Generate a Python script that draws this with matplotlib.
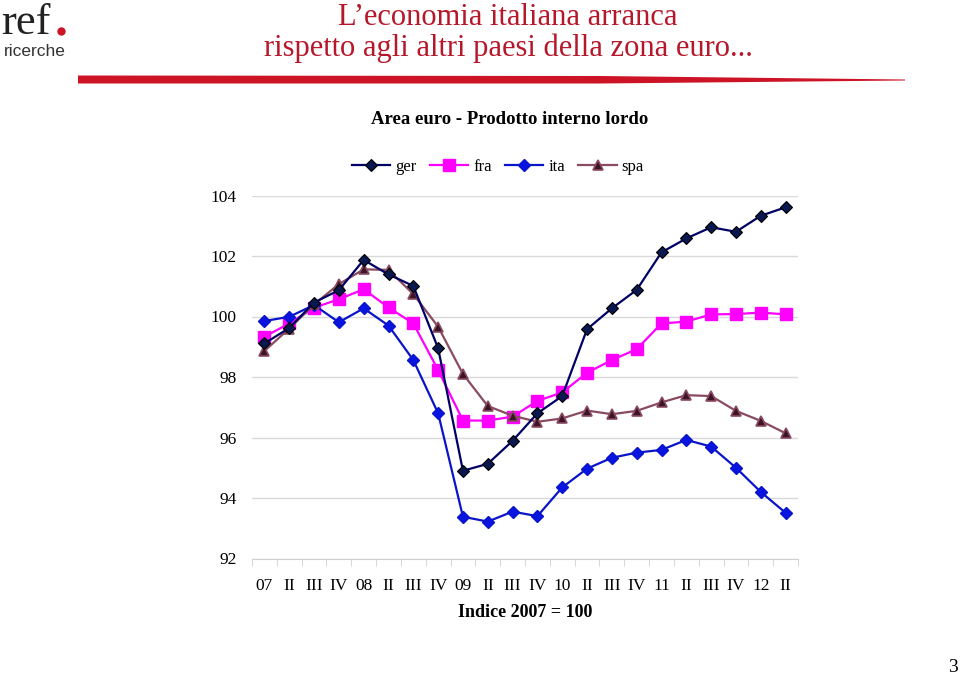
import numpy as np
import matplotlib.pyplot as plt
from matplotlib.patches import Polygon
from matplotlib.lines import Line2D

quarters = ['07', 'II', 'III', 'IV', '08', 'II', 'III', 'IV', '09', 'II', 'III', 'IV',
            '10', 'II', 'III', 'IV', '11', 'II', 'III', 'IV', '12', 'II']

ger = [99.11, 99.62, 100.46, 100.87, 101.87, 101.39, 101.01, 98.95, 94.90, 95.13, 95.89,
       96.80, 97.37, 99.58, 100.27, 100.88, 102.12, 102.58, 102.95, 102.80, 103.33, 103.61]
fra = [99.33, 99.77, 100.29, 100.57, 100.90, 100.30, 99.77, 98.23, 96.56, 96.56, 96.69,
       97.21, 97.49, 98.14, 98.56, 98.92, 99.77, 99.83, 100.07, 100.08, 100.13, 100.07]
ita = [99.85, 99.99, 100.38, 99.81, 100.27, 99.70, 98.56, 96.80, 93.38, 93.22, 93.55,
       93.40, 94.35, 94.97, 95.33, 95.50, 95.59, 95.92, 95.70, 95.00, 94.20, 93.51]
spa = [98.86, 99.60, 100.40, 101.07, 101.56, 101.54, 100.74, 99.66, 98.10, 97.04, 96.72,
       96.52, 96.63, 96.89, 96.77, 96.88, 97.16, 97.40, 97.37, 96.88, 96.55, 96.14]

serif = ['Liberation Serif', 'DejaVu Serif']
red = '#b5182b'

fig = plt.figure(figsize=(9.6, 6.76), dpi=100)
ax = fig.add_axes([252 / 960, 1 - 558.5 / 676, 546 / 960, 363 / 676])

x = np.arange(len(quarters))
ax.plot(x, ger, color='#000066', lw=1.6, marker='D', ms=6.5, mfc='#0b1850', mec='black', mew=0.8, label='ger', zorder=5)
ax.plot(x, fra, color='#ff00ff', lw=1.6, marker='s', ms=8, mfc='#ff00ff', mec='#ff00ff', label='fra', zorder=4)
ax.plot(x, ita, color='#0a14c8', lw=1.6, marker='D', ms=6.5, mfc='#0a14e0', mec='#0a14c8', label='ita', zorder=4)
ax.plot(x, spa, color='#8a4a60', lw=1.6, marker='^', ms=7.5, mfc='#3c1428', mec='#8a4a60', mew=1.2, label='spa', zorder=4)

ax.set_xlim(-0.5, len(quarters) - 0.5)
ax.set_ylim(92, 104)
ax.set_yticks(np.arange(92, 105, 2))
ax.yaxis.grid(True, color='#d9d9d9', lw=1)
ax.set_axisbelow(True)
for s in ['top', 'right', 'left']:
    ax.spines[s].set_visible(False)
ax.spines['bottom'].set_color('#d0d0d0')
ax.tick_params(axis='y', length=0, pad=11, labelsize=12.5)
ax.set_xticks(x)
ax.set_xticklabels(quarters, fontsize=12.5)
ax.set_xticks(np.arange(-0.5, len(quarters), 1), minor=True)
ax.tick_params(axis='x', which='major', length=0, pad=14)
ax.tick_params(axis='x', which='minor', length=5, color='#d0d0d0')
for lab in ax.get_xticklabels() + ax.get_yticklabels():
    lab.set_family(serif)
ax.set_xlabel('Indice 2007 = 100', fontsize=13, fontweight='bold', family=serif, labelpad=7)

fig.legend(loc='center', bbox_to_anchor=(498 / 960, 1 - 167 / 676), ncol=4, frameon=False,
           prop={'family': serif, 'size': 12}, handlelength=2.3, columnspacing=0.8, handletextpad=0.3)

fig.text(510 / 960, 1 - 119 / 676, 'Area euro - Prodotto interno lordo', ha='center', va='center',
         fontsize=13.5, fontweight='bold', family=serif)

# slide title
fig.text(508 / 960, 1 - 25 / 676, 'L\u2019economia italiana arranca', ha='center', va='baseline',
         fontsize=22, color=red, family=serif)
fig.text(508 / 960, 1 - 56 / 676, 'rispetto agli altri paesi della zona euro...', ha='center', va='baseline',
         fontsize=22, color=red, family=serif)

# tapered red bar
bar = Polygon([(78 / 960, 1 - 75.5 / 676), (600 / 960, 1 - 76 / 676), (905 / 960, 1 - 79.5 / 676),
               (905 / 960, 1 - 80.5 / 676), (600 / 960, 1 - 83.5 / 676), (78 / 960, 1 - 83.5 / 676)],
              closed=True, color='#cc1426', transform=fig.transFigure, lw=0)
fig.patches.append(bar)

# logo
fig.text(1 / 960, 1 - 34 / 676, 'ref', ha='left', va='baseline', fontsize=32, family=serif, color='#222222')
fig.add_artist(Line2D([61 / 960], [1 - 31 / 676], marker='o', ms=5, color='#cc1426', lw=0,
                      transform=fig.transFigure))
fig.text(4 / 960, 1 - 52 / 676, 'ricerche', ha='left', va='center', fontsize=12.5, color='#333333',
         family=['Liberation Sans', 'DejaVu Sans'])

fig.text(953 / 960, 1 - 668 / 676, '3', ha='center', va='center', fontsize=14, family=serif)

fig.savefig('out.png', dpi=100)
